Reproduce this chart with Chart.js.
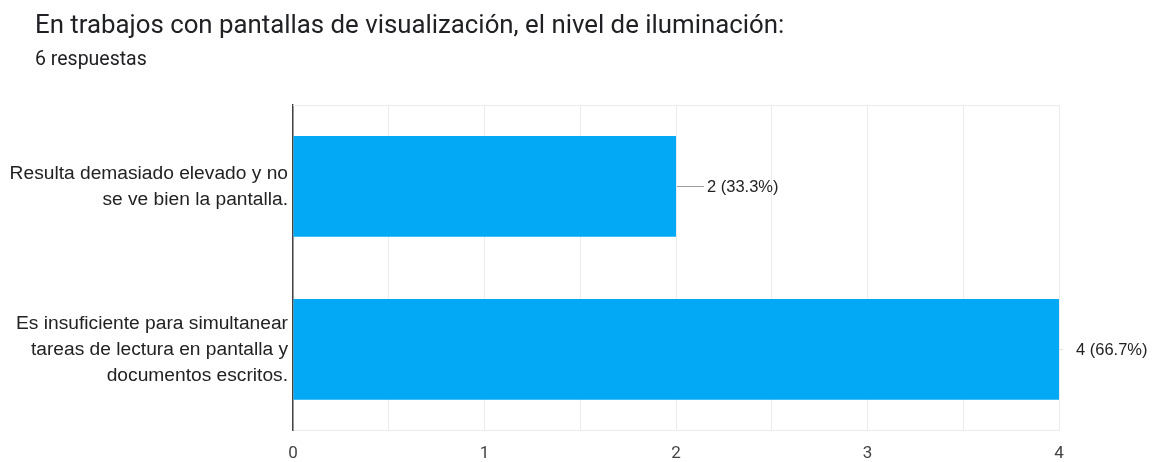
<!DOCTYPE html>
<html>
<head>
<meta charset="utf-8">
<script src="https://cdn.jsdelivr.net/npm/chart.js@4.4.1/dist/chart.umd.min.js"></script>
<style>
  html, body { margin: 0; padding: 0; background: #fff; }
  #wrap { width: 1163px; height: 462px; position: relative; }
</style>
</head>
<body>
<div id="wrap"><canvas id="c" width="1163" height="462"></canvas></div>
<script>
const chartTitle = "En trabajos con pantallas de visualización, el nivel de iluminación:";
const chartSubtitle = "6 respuestas";
const categories = [
  ["Resulta demasiado elevado y no", "se ve bien la pantalla."],
  ["Es insuficiente para simultanear", "tareas de lectura en pantalla y", "documentos escritos."]
];
const counts = [2, 4];
const percents = ["33.3%", "66.7%"];
const xTicks = [0, 1, 2, 3, 4];

const headerPlugin = {
  id: 'header',
  afterDraw(chart) {
    const ctx = chart.ctx;
    ctx.save();
    ctx.fillStyle = '#202124';
    ctx.font = '25.8px Roboto';
    ctx.textBaseline = 'alphabetic';
    ctx.textAlign = 'left';
    ctx.fillText(chartTitle, 35, 33);
    ctx.font = '19.5px Roboto';
    ctx.fillText(chartSubtitle, 35, 65);
    ctx.restore();
  }
};

const framePlugin = {
  id: 'frame',
  beforeDatasetsDraw(chart) {
    const { ctx, chartArea: a } = chart;
    ctx.save();
    ctx.strokeStyle = '#ebebeb';
    ctx.lineWidth = 1;
    ctx.beginPath();
    ctx.moveTo(a.left, a.top + 0.5);
    ctx.lineTo(a.right, a.top + 0.5);
    ctx.stroke();
    ctx.restore();
  }
};

const valueLabels = {
  id: 'valueLabels',
  afterDatasetsDraw(chart) {
    const { ctx, chartArea: a } = chart;
    const meta = chart.getDatasetMeta(0);
    ctx.save();
    ctx.font = '16.5px "Liberation Sans", Arial, sans-serif';
    ctx.textBaseline = 'middle';
    ctx.textAlign = 'left';
    meta.data.forEach((bar, i) => {
      const x = bar.x;
      const y = Math.round(bar.y) + 0.5;
      const atEdge = x >= a.right - 1;
      const off = atEdge ? 17 : 31;
      ctx.strokeStyle = atEdge ? '#e0e0e0' : '#9e9e9e';
      ctx.lineWidth = 1;
      ctx.beginPath();
      ctx.moveTo(x + 1, y);
      ctx.lineTo(x + (atEdge ? 4 : off - 3), y);
      ctx.stroke();
      ctx.fillStyle = '#222';
      ctx.fillText(counts[i] + ' (' + percents[i] + ')', x + off, y + 1);
    });
    ctx.restore();
  }
};

new Chart(document.getElementById('c'), {
  type: 'bar',
  data: {
    labels: categories,
    datasets: [{
      data: counts,
      backgroundColor: '#03a9f4',
      borderWidth: 0,
      categoryPercentage: 0.618,
      barPercentage: 1.0
    }]
  },
  options: {
    indexAxis: 'y',
    responsive: false,
    animation: false,
    devicePixelRatio: 1,
    layout: { padding: { left: 0, right: 104, top: 105, bottom: 0 } },
    plugins: {
      legend: { display: false },
      tooltip: { enabled: false },
      title: { display: false }
    },
    scales: {
      x: {
        min: 0,
        max: 4,
        afterFit(s) { s.height = 30; },
        ticks: {
          stepSize: 0.5,
          autoSkip: false,
          maxRotation: 0,
          padding: 13,
          color: '#444',
          font: { family: 'Roboto', size: 17 },
          callback(v) { return xTicks.includes(v) ? String(v) : ''; }
        },
        grid: { color: '#ebebeb', drawTicks: false, lineWidth: 1 },
        border: { color: '#ebebeb', width: 1 }
      },
      y: {
        afterFit(s) { s.width = 293; },
        ticks: {
          padding: 5,
          color: '#222',
          font: { family: '"Liberation Sans", Arial, sans-serif', size: 19.2, lineHeight: 1.36 }
        },
        grid: { display: false, drawTicks: false },
        border: { color: '#444', width: 1.5 }
      }
    }
  },
  plugins: [headerPlugin, framePlugin, valueLabels]
});
</script>
</body>
</html>
